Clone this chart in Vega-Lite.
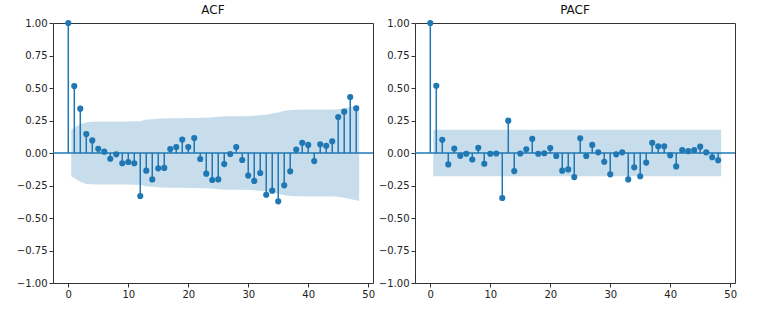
{
  "$schema": "https://vega.github.io/schema/vega-lite/v6.json",
  "background": "white",
  "padding": {"left": 15, "top": 3, "right": 5, "bottom": 5},
  "spacing": 42,
  "bounds": "flush",
  "config": {
    "font": "DejaVu Sans",
    "view": {"stroke": "#333333", "strokeWidth": 1},
    "axis": {
      "grid": false,
      "domain": false,
      "tickColor": "#333333",
      "tickSize": 4,
      "labelColor": "#222222",
      "labelFont": "DejaVu Sans",
      "labelFontSize": 10,
      "labelPadding": 2,
      "labelOverlap": false,
      "title": null
    },
    "title": {"font": "DejaVu Sans", "fontSize": 12, "fontWeight": "normal", "color": "#111111", "offset": 1}
  },
  "datasets": {
    "acf": [
      {"lag": 0, "value": 1.0}, {"lag": 1, "value": 0.515}, {"lag": 2, "value": 0.341}, {"lag": 3, "value": 0.146},
      {"lag": 4, "value": 0.097}, {"lag": 5, "value": 0.033}, {"lag": 6, "value": 0.010}, {"lag": 7, "value": -0.044},
      {"lag": 8, "value": -0.010}, {"lag": 9, "value": -0.079}, {"lag": 10, "value": -0.069}, {"lag": 11, "value": -0.079},
      {"lag": 12, "value": -0.331}, {"lag": 13, "value": -0.136}, {"lag": 14, "value": -0.203}, {"lag": 15, "value": -0.118},
      {"lag": 16, "value": -0.115}, {"lag": 17, "value": 0.031}, {"lag": 18, "value": 0.046}, {"lag": 19, "value": 0.103},
      {"lag": 20, "value": 0.046}, {"lag": 21, "value": 0.115}, {"lag": 22, "value": -0.046}, {"lag": 23, "value": -0.159},
      {"lag": 24, "value": -0.208}, {"lag": 25, "value": -0.203}, {"lag": 26, "value": -0.085}, {"lag": 27, "value": -0.008},
      {"lag": 28, "value": 0.046}, {"lag": 29, "value": -0.054}, {"lag": 30, "value": -0.174}, {"lag": 31, "value": -0.215},
      {"lag": 32, "value": -0.154}, {"lag": 33, "value": -0.321}, {"lag": 34, "value": -0.290}, {"lag": 35, "value": -0.372},
      {"lag": 36, "value": -0.249}, {"lag": 37, "value": -0.141}, {"lag": 38, "value": 0.026}, {"lag": 39, "value": 0.079},
      {"lag": 40, "value": 0.062}, {"lag": 41, "value": -0.062}, {"lag": 42, "value": 0.067}, {"lag": 43, "value": 0.056},
      {"lag": 44, "value": 0.090}, {"lag": 45, "value": 0.277}, {"lag": 46, "value": 0.318}, {"lag": 47, "value": 0.431},
      {"lag": 48, "value": 0.344}
    ],
    "acfband": [
      {"lag": 0.5, "lo": -0.178, "hi": 0.178}, {"lag": 2, "lo": -0.221, "hi": 0.221}, {"lag": 3, "lo": -0.2375, "hi": 0.2375},
      {"lag": 4, "lo": -0.2405, "hi": 0.2405}, {"lag": 5, "lo": -0.2418, "hi": 0.2418}, {"lag": 6, "lo": -0.242, "hi": 0.242},
      {"lag": 7, "lo": -0.242, "hi": 0.242}, {"lag": 8, "lo": -0.2422, "hi": 0.2422}, {"lag": 9, "lo": -0.2422, "hi": 0.2422},
      {"lag": 10, "lo": -0.2429, "hi": 0.2429}, {"lag": 11, "lo": -0.2434, "hi": 0.2434}, {"lag": 12, "lo": -0.2441, "hi": 0.2441},
      {"lag": 13, "lo": -0.2573, "hi": 0.2573}, {"lag": 14, "lo": -0.2593, "hi": 0.2593}, {"lag": 15, "lo": -0.2639, "hi": 0.2639},
      {"lag": 16, "lo": -0.2654, "hi": 0.2654}, {"lag": 17, "lo": -0.2668, "hi": 0.2668}, {"lag": 18, "lo": -0.267, "hi": 0.267},
      {"lag": 19, "lo": -0.2673, "hi": 0.2673}, {"lag": 20, "lo": -0.2687, "hi": 0.2687}, {"lag": 21, "lo": -0.269, "hi": 0.269},
      {"lag": 22, "lo": -0.2708, "hi": 0.2708}, {"lag": 23, "lo": -0.2709, "hi": 0.2709}, {"lag": 24, "lo": -0.2736, "hi": 0.2736},
      {"lag": 25, "lo": -0.2782, "hi": 0.2782}, {"lag": 26, "lo": -0.2825, "hi": 0.2825}, {"lag": 27, "lo": -0.2832, "hi": 0.2832},
      {"lag": 28, "lo": -0.2832, "hi": 0.2832}, {"lag": 29, "lo": -0.2835, "hi": 0.2835}, {"lag": 30, "lo": -0.2838, "hi": 0.2838},
      {"lag": 31, "lo": -0.2869, "hi": 0.2869}, {"lag": 32, "lo": -0.2916, "hi": 0.2916}, {"lag": 33, "lo": -0.2939, "hi": 0.2939},
      {"lag": 34, "lo": -0.3043, "hi": 0.3043}, {"lag": 35, "lo": -0.3125, "hi": 0.3125}, {"lag": 36, "lo": -0.3256, "hi": 0.3256},
      {"lag": 37, "lo": -0.3313, "hi": 0.3313}, {"lag": 38, "lo": -0.333, "hi": 0.333}, {"lag": 39, "lo": -0.3331, "hi": 0.3331},
      {"lag": 40, "lo": -0.3338, "hi": 0.3338}, {"lag": 41, "lo": -0.3342, "hi": 0.3342}, {"lag": 42, "lo": -0.3345, "hi": 0.3345},
      {"lag": 43, "lo": -0.335, "hi": 0.335}, {"lag": 44, "lo": -0.3354, "hi": 0.3354}, {"lag": 45, "lo": -0.3362, "hi": 0.3362},
      {"lag": 46, "lo": -0.3436, "hi": 0.3436}, {"lag": 47, "lo": -0.3531, "hi": 0.3531}, {"lag": 48.5, "lo": -0.3697, "hi": 0.3697}
    ],
    "pacf": [
      {"lag": 0, "value": 1.0}, {"lag": 1, "value": 0.517}, {"lag": 2, "value": 0.101}, {"lag": 3, "value": -0.088},
      {"lag": 4, "value": 0.034}, {"lag": 5, "value": -0.022}, {"lag": 6, "value": -0.006}, {"lag": 7, "value": -0.05},
      {"lag": 8, "value": 0.04}, {"lag": 9, "value": -0.083}, {"lag": 10, "value": -0.006}, {"lag": 11, "value": -0.004},
      {"lag": 12, "value": -0.346}, {"lag": 13, "value": 0.249}, {"lag": 14, "value": -0.139}, {"lag": 15, "value": -0.004},
      {"lag": 16, "value": 0.029}, {"lag": 17, "value": 0.109}, {"lag": 18, "value": -0.006}, {"lag": 19, "value": -0.002},
      {"lag": 20, "value": 0.038}, {"lag": 21, "value": -0.023}, {"lag": 22, "value": -0.136}, {"lag": 23, "value": -0.126},
      {"lag": 24, "value": -0.185}, {"lag": 25, "value": 0.113}, {"lag": 26, "value": -0.023}, {"lag": 27, "value": 0.062},
      {"lag": 28, "value": 0.005}, {"lag": 29, "value": -0.067}, {"lag": 30, "value": -0.164}, {"lag": 31, "value": -0.01},
      {"lag": 32, "value": 0.005}, {"lag": 33, "value": -0.203}, {"lag": 34, "value": -0.11}, {"lag": 35, "value": -0.179},
      {"lag": 36, "value": -0.074}, {"lag": 37, "value": 0.079}, {"lag": 38, "value": 0.051}, {"lag": 39, "value": 0.051},
      {"lag": 40, "value": -0.018}, {"lag": 41, "value": -0.103}, {"lag": 42, "value": 0.023}, {"lag": 43, "value": 0.015},
      {"lag": 44, "value": 0.023}, {"lag": 45, "value": 0.049}, {"lag": 46, "value": 0.005}, {"lag": 47, "value": -0.033},
      {"lag": 48, "value": -0.056}
    ],
    "pacfband": [
      {"lag": 0.5, "lo": -0.178, "hi": 0.178}, {"lag": 48.5, "lo": -0.178, "hi": 0.178}
    ]
  },
  "hconcat": [
    {
      "title": "ACF",
      "width": 320,
      "height": 260,
      "layer": [
        {
          "data": {"name": "acfband"},
          "mark": {"type": "area", "color": "#1f77b4", "opacity": 0.25, "interpolate": "linear"},
          "encoding": {
            "x": {"field": "lag", "type": "quantitative", "scale": {"domain": [-2.55, 50.8], "nice": false, "zero": false}, "axis": {"values": [0, 10, 20, 30, 40, 50], "format": "d"}},
            "y": {"field": "lo", "type": "quantitative", "scale": {"domain": [-1, 1], "nice": false}, "axis": {"values": [-1, -0.75, -0.5, -0.25, 0, 0.25, 0.5, 0.75, 1], "format": ".2f", "labelOverlap": false}},
            "y2": {"field": "hi"}
          }
        },
        {
          "data": {"values": [{"z": 0}]},
          "mark": {"type": "rule", "color": "#1f77b4", "strokeWidth": 1.5},
          "encoding": {"y": {"field": "z", "type": "quantitative", "axis": {"values": [-1, -0.75, -0.5, -0.25, 0, 0.25, 0.5, 0.75, 1], "format": ".2f", "labelOverlap": false}}}
        },
        {
          "data": {"name": "acf"},
          "mark": {"type": "rule", "color": "#1f77b4", "strokeWidth": 1.5},
          "encoding": {
            "x": {"field": "lag", "type": "quantitative"},
            "y": {"field": "value", "type": "quantitative", "axis": {"values": [-1, -0.75, -0.5, -0.25, 0, 0.25, 0.5, 0.75, 1], "format": ".2f", "labelOverlap": false}},
            "y2": {"datum": 0}
          }
        },
        {
          "data": {"name": "acf"},
          "mark": {"type": "point", "filled": true, "color": "#1f77b4", "size": 38, "opacity": 1},
          "encoding": {
            "x": {"field": "lag", "type": "quantitative"},
            "y": {"field": "value", "type": "quantitative", "axis": {"values": [-1, -0.75, -0.5, -0.25, 0, 0.25, 0.5, 0.75, 1], "format": ".2f", "labelOverlap": false}}
          }
        }
      ]
    },
    {
      "title": "PACF",
      "width": 320,
      "height": 260,
      "layer": [
        {
          "data": {"name": "pacfband"},
          "mark": {"type": "area", "color": "#1f77b4", "opacity": 0.25, "interpolate": "linear"},
          "encoding": {
            "x": {"field": "lag", "type": "quantitative", "scale": {"domain": [-2.55, 50.8], "nice": false, "zero": false}, "axis": {"values": [0, 10, 20, 30, 40, 50], "format": "d"}},
            "y": {"field": "lo", "type": "quantitative", "scale": {"domain": [-1, 1], "nice": false}, "axis": {"values": [-1, -0.75, -0.5, -0.25, 0, 0.25, 0.5, 0.75, 1], "format": ".2f", "labelOverlap": false}},
            "y2": {"field": "hi"}
          }
        },
        {
          "data": {"values": [{"z": 0}]},
          "mark": {"type": "rule", "color": "#1f77b4", "strokeWidth": 1.5},
          "encoding": {"y": {"field": "z", "type": "quantitative", "axis": {"values": [-1, -0.75, -0.5, -0.25, 0, 0.25, 0.5, 0.75, 1], "format": ".2f", "labelOverlap": false}}}
        },
        {
          "data": {"name": "pacf"},
          "mark": {"type": "rule", "color": "#1f77b4", "strokeWidth": 1.5},
          "encoding": {
            "x": {"field": "lag", "type": "quantitative"},
            "y": {"field": "value", "type": "quantitative", "axis": {"values": [-1, -0.75, -0.5, -0.25, 0, 0.25, 0.5, 0.75, 1], "format": ".2f", "labelOverlap": false}},
            "y2": {"datum": 0}
          }
        },
        {
          "data": {"name": "pacf"},
          "mark": {"type": "point", "filled": true, "color": "#1f77b4", "size": 38, "opacity": 1},
          "encoding": {
            "x": {"field": "lag", "type": "quantitative"},
            "y": {"field": "value", "type": "quantitative", "axis": {"values": [-1, -0.75, -0.5, -0.25, 0, 0.25, 0.5, 0.75, 1], "format": ".2f", "labelOverlap": false}}
          }
        }
      ]
    }
  ]
}
